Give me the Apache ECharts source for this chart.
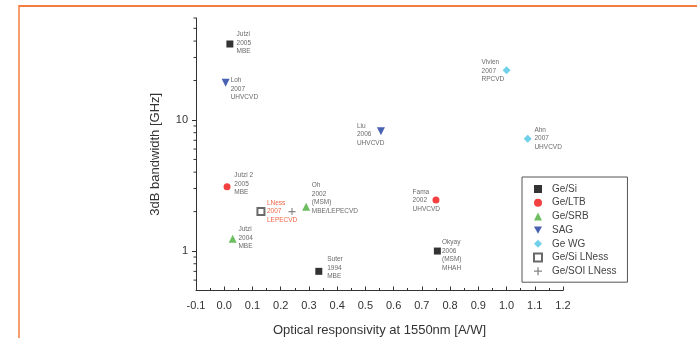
<!DOCTYPE html>
<html><head><meta charset="utf-8">
<script src="https://cdn.jsdelivr.net/npm/echarts@6/dist/echarts.min.js"></script>
<style>html,body{margin:0;padding:0;background:#fff}#c{width:697px;height:338px}</style>
</head><body><div id="c"></div>
<script>
// ---- data ----
const seriesNames = ['Ge/Si', 'Ge/LTB', 'Ge/SRB', 'SAG', 'Ge WG', 'Ge/Si LNess', 'Ge/SOI LNess'];
const geSi      = [[0.02, 38], [0.335, 0.70], [0.755, 1.0]];
const geSiText  = ['Jutzi\n2005\nMBE', 'Suter\n1994\nMBE', 'Okyay\n2006\n(MSM)\nMHAH'];
const geLtb     = [[0.01, 3.1], [0.75, 2.45]];
const geLtbText = ['Jutzi 2\n2005\nMBE', 'Fama\n2002\nUHVCVD'];
const geSrb     = [[0.03, 1.24], [0.29, 2.18]];
const geSrbText = ['Jutzi\n2004\nMBE', 'Oh\n2002\n(MSM)\nMBE/LEPECVD'];
const sag       = [[0.005, 19.2], [0.555, 8.2]];
const sagText   = ['Loh\n2007\nUHVCVD', 'Liu\n2006\nUHVCVD'];
const geWg      = [[1.0, 24.0], [1.075, 7.2]];
const geWgText  = ['Vivien\n2007\nRPCVD', 'Ahn\n2007\nUHVCVD'];
const geSiLness = [[0.13, 2.0]];
const geSiLnessText = ['LNess\n2007\nLEPECVD'];
const geSoiLness = [[0.24, 2.0]];
const xTickMin = -0.1, xTickMax = 1.2, xTickStep = 0.1;
const yMin = 0.5, yMax = 60;
const yMinorTicks = [0.6, 0.7, 0.8, 0.9, 2, 3, 4, 5, 6, 7, 8, 9, 20, 30, 40, 50, 60];

// ---- label layout (text-left / text-centre offsets from the mark, px) ----
const geSiOff  = [[6.7, -1], [8.4, -3.4], [4.6, 4.4]];
const geLtbOff = [[7.3, -2.7], [-23.4, 0.3]];
const geSrbOff = [[5.7, -0.6], [5.7, -8.3]];
const sagOff   = [[5, 6], [-24, 3.3]];
const geWgOff  = [[-25, 0.6], [6.7, -0.3]];
const lnessOff = [[7, 1]];

const FONT = "Arial, 'Liberation Sans', sans-serif";

function items(pts, texts, offs, size, color) {
  return pts.map((p, i) => {
    const it = { value: p };
    if (texts && texts[i]) {
      it.label = {
        show: true,
        formatter: texts[i],
        position: [offs[i][0] + size / 2, offs[i][1] + size / 2],
        align: 'left',
        verticalAlign: 'middle',
        fontSize: 6.5,
        lineHeight: 8.5,
        fontFamily: FONT,
        color: color || '#444'
      };
    }
    return it;
  });
}

function sc(name, data, symbol, size, color, extra) {
  return Object.assign({
    name, type: 'scatter', data, symbol, symbolSize: size,
    itemStyle: { color }, z: 3
  }, extra || {});
}

const plusPath = 'path://M0,4.2H10V5.8H0Z M4.2,0H5.8V10H4.2Z';
const downTri = 'path://M0,0L10,0L5,9Z';

const chart = echarts.init(document.getElementById('c'), null, { renderer: 'canvas' });
chart.setOption({
  animation: false,
  backgroundColor: '#fff',
  textStyle: { fontFamily: FONT },
  graphic: [
    { type: 'line', shape: { x1: 19, y1: 6, x2: 697, y2: 6 }, style: { stroke: '#f47c40', lineWidth: 2 } },
    { type: 'line', shape: { x1: 19, y1: 5, x2: 19, y2: 338 }, style: { stroke: '#f47c40', lineWidth: 1.5 } }
  ],
  grid: { left: 196, right: 134, top: 18, bottom: 47.5, containLabel: false, outerBoundsMode: 'none' },
  xAxis: {
    type: 'value', min: xTickMin, max: xTickMax, interval: xTickStep,
    name: 'Optical responsivity at 1550nm [A/W]', nameLocation: 'middle', nameGap: 33,
    nameTextStyle: { fontSize: 13, color: '#333', fontFamily: FONT },
    axisLine: { show: true, onZero: false, lineStyle: { color: '#333', width: 1 } },
    axisTick: { show: true, inside: true, length: 4, lineStyle: { color: '#333' } },
    minorTick: { show: true, splitNumber: 2, length: 2.5, lineStyle: { color: '#333' } },
    axisLabel: { fontSize: 11, color: '#333', margin: 10, fontFamily: FONT, formatter: v => v.toFixed(1) },
    splitLine: { show: false }
  },
  yAxis: {
    type: 'log', logBase: 10, min: yMin, max: yMax,
    name: '3dB bandwidth [GHz]', nameLocation: 'middle', nameGap: 34,
    nameTextStyle: { fontSize: 13, color: '#333', fontFamily: FONT },
    axisLine: { show: true, onZero: false, lineStyle: { color: '#333', width: 1 } },
    axisTick: { show: true, inside: false, length: 4, lineStyle: { color: '#333' } },
    axisLabel: { fontSize: 11, color: '#333', margin: 8, fontFamily: FONT, showMinLabel: false, showMaxLabel: false },
    splitLine: { show: false }
  },
  legend: {
    data: seriesNames.map(n => n === 'SAG' ? { name: n, icon: downTri } : n),
    orient: 'vertical', left: 522, top: 177,
    padding: [7, 11, 6, 11],
    itemWidth: 8, itemHeight: 8, itemGap: 3.7,
    borderColor: '#555', borderWidth: 1,
    textStyle: { fontSize: 10, color: '#444', fontFamily: FONT, padding: [0, 0, 0, 5] }
  },
  series: [
    sc('Ge/Si', items(geSi, geSiText, geSiOff, 7), 'rect', 7, '#000'),
    sc('Ge/LTB', items(geLtb, geLtbText, geLtbOff, 7), 'circle', 7, '#f01010'),
    sc('Ge/SRB', items(geSrb, geSrbText, geSrbOff, 8), 'triangle', 8, '#4aae3a'),
    sc('SAG', items(sag, sagText, sagOff, 8), 'triangle', 8, '#1c3a9e', { symbolRotate: 180 }),
    sc('Ge WG', items(geWg, geWgText, geWgOff, 8), 'diamond', 8, '#4cc4e4'),
    sc('Ge/Si LNess', items(geSiLness, geSiLnessText, lnessOff, 7, '#e8401c'), 'emptyRect', 7, '#444', { itemStyle: { color: '#444', borderWidth: 1 } }),
    sc('Ge/SOI LNess', items(geSoiLness, null, null, 7), plusPath, 7, '#666'),
    {
      type: 'custom', name: 'yminor', silent: true, clip: false, z: 2,
      data: yMinorTicks.map(v => [xTickMin, v]),
      encode: { x: 0, y: 1 },
      renderItem: (params, api) => {
        const pt = api.coord([api.value(0), api.value(1)]);
        return { type: 'line', shape: { x1: pt[0] - 2.5, y1: pt[1], x2: pt[0], y2: pt[1] }, style: { stroke: '#333', lineWidth: 1 } };
      }
    }
  ]
});
</script>
</body></html>
